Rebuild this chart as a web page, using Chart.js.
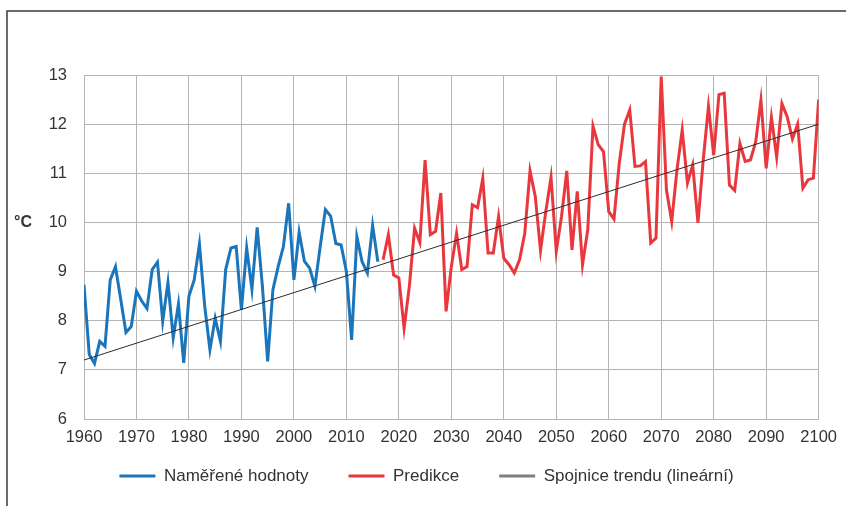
<!DOCTYPE html>
<html>
<head>
<meta charset="utf-8">
<script src="https://cdn.jsdelivr.net/npm/chart.js@4.4.1/dist/chart.umd.min.js"></script>
<style>
  html, body { margin: 0; padding: 0; background: #fff; }
  #wrap { width: 846px; height: 506px; }
</style>
</head>
<body>
<div id="wrap"><canvas id="myChart" width="846" height="506"></canvas></div>
<script>
// roky a hodnoty
const measuredStart = 1960;
const measured = [
  8.73, 7.31, 7.13, 7.58, 7.48, 8.83, 9.10, 8.43, 7.76, 7.88,
  8.60, 8.40, 8.25, 9.04, 9.19, 7.99, 8.78, 7.65, 8.34, 7.14,
  8.50, 8.83, 9.56, 8.30, 7.41, 8.05, 7.58, 9.04, 9.48, 9.51,
  8.22, 9.48, 8.64, 9.90, 8.70, 7.17, 8.63, 9.10, 9.51, 10.39,
  8.83, 9.80, 9.21, 9.07, 8.70, 9.50, 10.26, 10.13, 9.57, 9.54,
  9.00, 7.61, 9.71, 9.20, 8.97, 9.94, 9.20
];
const predictedStart = 2017;
const predicted = [
  9.24, 9.75, 8.93, 8.87, 7.85, 8.70, 9.88, 9.59, 11.27, 9.75,
  9.82, 10.60, 8.19, 9.10, 9.78, 9.04, 9.10, 10.36, 10.30, 10.90,
  9.38, 9.38, 10.12, 9.27, 9.14, 8.97, 9.24, 9.78, 11.05, 10.53,
  9.43, 10.22, 10.92, 9.41, 10.12, 11.05, 9.44, 10.63, 9.14, 9.85,
  11.96, 11.58, 11.44, 10.22, 10.07, 11.20, 12.00, 12.29, 11.14, 11.15,
  11.24, 9.58, 9.68, 12.97, 10.66, 10.02, 11.07, 11.88, 10.80, 11.17,
  9.99, 11.27, 12.36, 11.37, 12.60, 12.63, 10.76, 10.65, 11.61, 11.24,
  11.27, 11.64, 12.49, 11.10, 12.14, 11.33, 12.42, 12.15, 11.70, 12.00,
  10.70, 10.87, 10.90, 12.50
];
const trendYears = [1960, 2100];
const trendValues = [7.2, 12.0];

const seriesNames = ['Naměřené hodnoty', 'Predikce', 'Spojnice trendu (lineární)'];

function toPoints(start, values) {
  return values.map((v, i) => ({ x: start + i, y: v }));
}

// rámeček, popisek osy Y a popisky osy X bez ořezu
const framePlugin = {
  id: 'framePlugin',
  beforeDraw: (chart) => {
    const ctx = chart.ctx;
    ctx.save();
    ctx.fillStyle = '#ffffff';
    ctx.fillRect(0, 0, chart.width, chart.height);
    ctx.strokeStyle = '#3a3a3a';
    ctx.lineWidth = 1.5;
    ctx.beginPath();
    ctx.moveTo(chart.width, 11);
    ctx.lineTo(7, 11);
    ctx.lineTo(7, chart.height);
    ctx.stroke();
    ctx.restore();
    // osa X je nízká kvůli legendě, popisky se nemají ořezávat
    chart.scales.x._computeLabelArea = () => undefined;
  },
  afterDraw: (chart) => {
    const ctx = chart.ctx;
    ctx.save();
    ctx.fillStyle = '#333333';
    ctx.font = 'bold 16px "Liberation Sans", Arial, sans-serif';
    ctx.textAlign = 'left';
    ctx.textBaseline = 'middle';
    ctx.fillText('°C', 14, 223);
    ctx.restore();
  }
};

const tickFont = { family: '"Liberation Sans", Arial, sans-serif', size: 16.5 };
const gridColor = '#b5b5b5';

new Chart(document.getElementById('myChart').getContext('2d'), {
  type: 'line',
  data: {
    datasets: [
      {
        label: seriesNames[0],
        data: toPoints(measuredStart, measured),
        borderColor: '#1b75bb',
        backgroundColor: '#1b75bb',
        borderWidth: 3,
        pointRadius: 0,
        tension: 0,
        order: 1
      },
      {
        label: seriesNames[1],
        data: toPoints(predictedStart, predicted),
        borderColor: '#e8383d',
        backgroundColor: '#e8383d',
        borderWidth: 3,
        pointRadius: 0,
        tension: 0,
        order: 1
      },
      {
        label: seriesNames[2],
        data: trendYears.map((x, i) => ({ x: x, y: trendValues[i] })),
        borderColor: '#2b2b2b',
        backgroundColor: '#7f7f7f',
        borderWidth: 1,
        pointRadius: 0,
        order: 0
      }
    ]
  },
  options: {
    responsive: false,
    animation: false,
    layout: { padding: { top: 75, right: 25, bottom: 11.5, left: 32 } },
    scales: {
      x: {
        type: 'linear',
        min: 1960,
        max: 2100,
        afterFit: (scale) => { scale.height = 8.5; },
        ticks: {
          stepSize: 10,
          color: '#333333',
          font: tickFont,
          padding: 9,
          maxRotation: 0,
          autoSkip: false,
          callback: (v) => String(v)
        },
        grid: { color: gridColor, drawTicks: false },
        border: { color: gridColor }
      },
      y: {
        min: 6,
        max: 13,
        afterFit: (scale) => { scale.width = 52; },
        ticks: {
          stepSize: 1,
          color: '#333333',
          font: tickFont,
          padding: 17
        },
        grid: { color: gridColor, drawTicks: false },
        border: { color: gridColor }
      }
    },
    plugins: {
      tooltip: { enabled: false },
      legend: {
        position: 'bottom',
        labels: {
          boxWidth: 36,
          boxHeight: 3,
          padding: 40,
          color: '#333333',
          font: { family: '"Liberation Sans", Arial, sans-serif', size: 17 },
          sort: (a, b) => a.datasetIndex - b.datasetIndex,
          generateLabels: (chart) =>
            Chart.defaults.plugins.legend.labels.generateLabels(chart).map(l => ({ ...l, lineWidth: 0 }))
        }
      }
    }
  },
  plugins: [framePlugin]
});
</script>
</body>
</html>
